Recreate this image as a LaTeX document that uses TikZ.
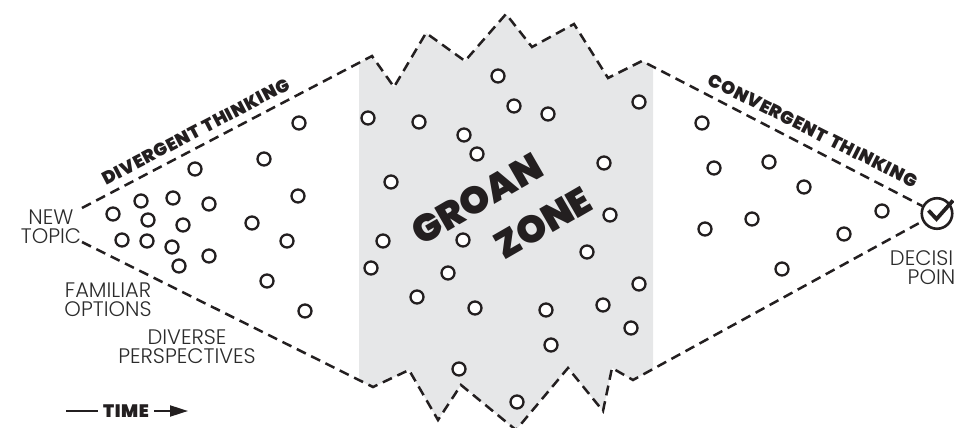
\documentclass[tikz,border=0pt]{standalone}
\usepackage{fontspec}
\setmainfont{Poppins}[UprightFont=* Light]
\newfontfamily\headfont{Poppins}[BoldFont=* Black]
\newfontfamily\spacedhead{Poppins}[BoldFont=* Black, LetterSpace=3, WordSpace=1.5]
\usetikzlibrary{arrows.meta}
\definecolor{zonegray}{HTML}{E6E7E8}
\definecolor{ink}{HTML}{231F20}
\definecolor{labelgray}{HTML}{2B2B2B}
\tikzset{
  dot/.style={circle, draw=ink, fill=white, line width=2.3pt, minimum size=13pt, inner sep=0pt},
  bound/.style={draw=ink, line width=2.5pt, dash pattern=on 10pt off 6pt},
  lbl/.style={text=labelgray, font=\fontsize{21}{19}\selectfont, align=center, inner sep=0pt},
  head/.style={text=ink, font=\spacedhead\bfseries\fontsize{18}{19}\selectfont, inner sep=0pt},
  groan/.style={text=ink, font=\headfont\bfseries\fontsize{38}{38}\selectfont, inner sep=0pt, rotate=30},
}
\begin{document}
\begin{tikzpicture}[x=1pt,y=-1pt]
\useasboundingbox (0,0) rectangle (954,428);
\clip (0,0) rectangle (954,428);
% boundary points
\coordinate (tl) at (82,208);
\coordinate (t1) at (372,56);
\coordinate (t2) at (394,87);
\coordinate (t3) at (426,33);
\coordinate (t4) at (465,61);
\coordinate (t5) at (506,14);
\coordinate (t6) at (532,47);
\coordinate (t7) at (574,24);
\coordinate (t8) at (608,78);
\coordinate (t9) at (642,61);
\coordinate (bl) at (82,242);
\coordinate (b1) at (373,387);
\coordinate (b2) at (409,370);
\coordinate (b3) at (438,420);
\coordinate (b4) at (461,385);
\coordinate (b5) at (516,430);
\coordinate (b6) at (568,368);
\coordinate (b7) at (603,411);
\coordinate (b8) at (612,368);
\coordinate (b9) at (633,380);
% decision circle
\node[circle, draw=ink, line width=2.6pt, minimum size=30.5pt, inner sep=0pt] (dec) at (937,213.5) {};
\coordinate (te) at (dec.153);
\coordinate (be) at (dec.208);
% groan zone fill
\begin{scope}
\clip (359,0) rectangle (653,428);
\fill[zonegray] (tl) -- (t1) -- (t2) -- (t3) -- (t4) -- (t5) -- (t6) -- (t7) -- (t8) -- (t9) -- (te)
  -- (be) -- (b9) -- (b8) -- (b7) -- (b6) -- (b5) -- (b4) -- (b3) -- (b2) -- (b1) -- (bl) -- cycle;
\end{scope}
% dashed boundaries
\draw[bound] (tl) -- (t1) -- (t2) -- (t3) -- (t4) -- (t5) -- (t6) -- (t7) -- (t8) -- (t9) -- (te);
\draw[bound] (bl) -- (b1) -- (b2) -- (b3) -- (b4) -- (b5) -- (b6) -- (b7) -- (b8) -- (b9) -- (be);
% check mark
\coordinate (ck1) at (928.5,210.5);
\coordinate (ck2) at (936.5,219);
\coordinate (ck3) at (953,200.5);
\draw[ink, line width=3.8pt, line join=miter] (ck1) -- (ck2) -- (ck3);
% dots: divergent
\foreach \x/\y [count=\i] in {299/123,264/159,195/169,141/201,173/198,209/204,298/196,113/214,148/220,183/225,252/223,122/240,147/241,172/247,287/241,209/256,179/266,267/281,305/311}
  \node[dot] (dv\i) at (\x,\y) {};
% dots: groan zone
\foreach \x/\y [count=\i] in {498/76,514/106,548/114,639/102,368/118,419/122,464/135,477/154,604/163,391/182,610/215,383/241,463/240,371/268,587/252,448/273,417/297,475/308,639/284,603/305,546/310,631/328,551/345,459/369,517/402}
  \node[dot] (gz\i) at (\x,\y) {};
% dots: convergent
\foreach \x/\y [count=\i] in {702/123,714/168,769/162,804/187,882/211,752/219,705/229,844/234,782/269}
  \node[dot] (cv\i) at (\x,\y) {};
% labels
\node[lbl] (newtopic) at (51,226.5) {NEW\\TOPIC};
\node[lbl] (familiar) at (108,300) {FAMILIAR\\OPTIONS};
\node[lbl] (diverse) at (187,346.5) {DIVERSE\\PERSPECTIVES};
\node[lbl] (decision) at (937,267.5) {DECISION\\POINT};
% headings
\node[head, rotate=27.6, anchor=south] (divh) at (199,137.5) {DIVERGENT THINKING};
\node[head, rotate=-26.7, anchor=south] (convh) at (810,136.5) {CONVERGENT THINKING};
\node[groan] (groan) at (477,199) {GROAN};
\node[groan] (zone) at (543,223) {ZONE};
% time
\node[head, inner xsep=5pt] (time) at (126,411) {TIME};
\coordinate (tstart) at (66,411);
\coordinate (tend) at (188,411);
\draw[ink, line width=2pt] (tstart) -- (time.west);
\draw[ink, line width=2pt, -{Triangle[length=18pt,width=11pt]}] (time.east) -- (tend);
\end{tikzpicture}
\end{document}
